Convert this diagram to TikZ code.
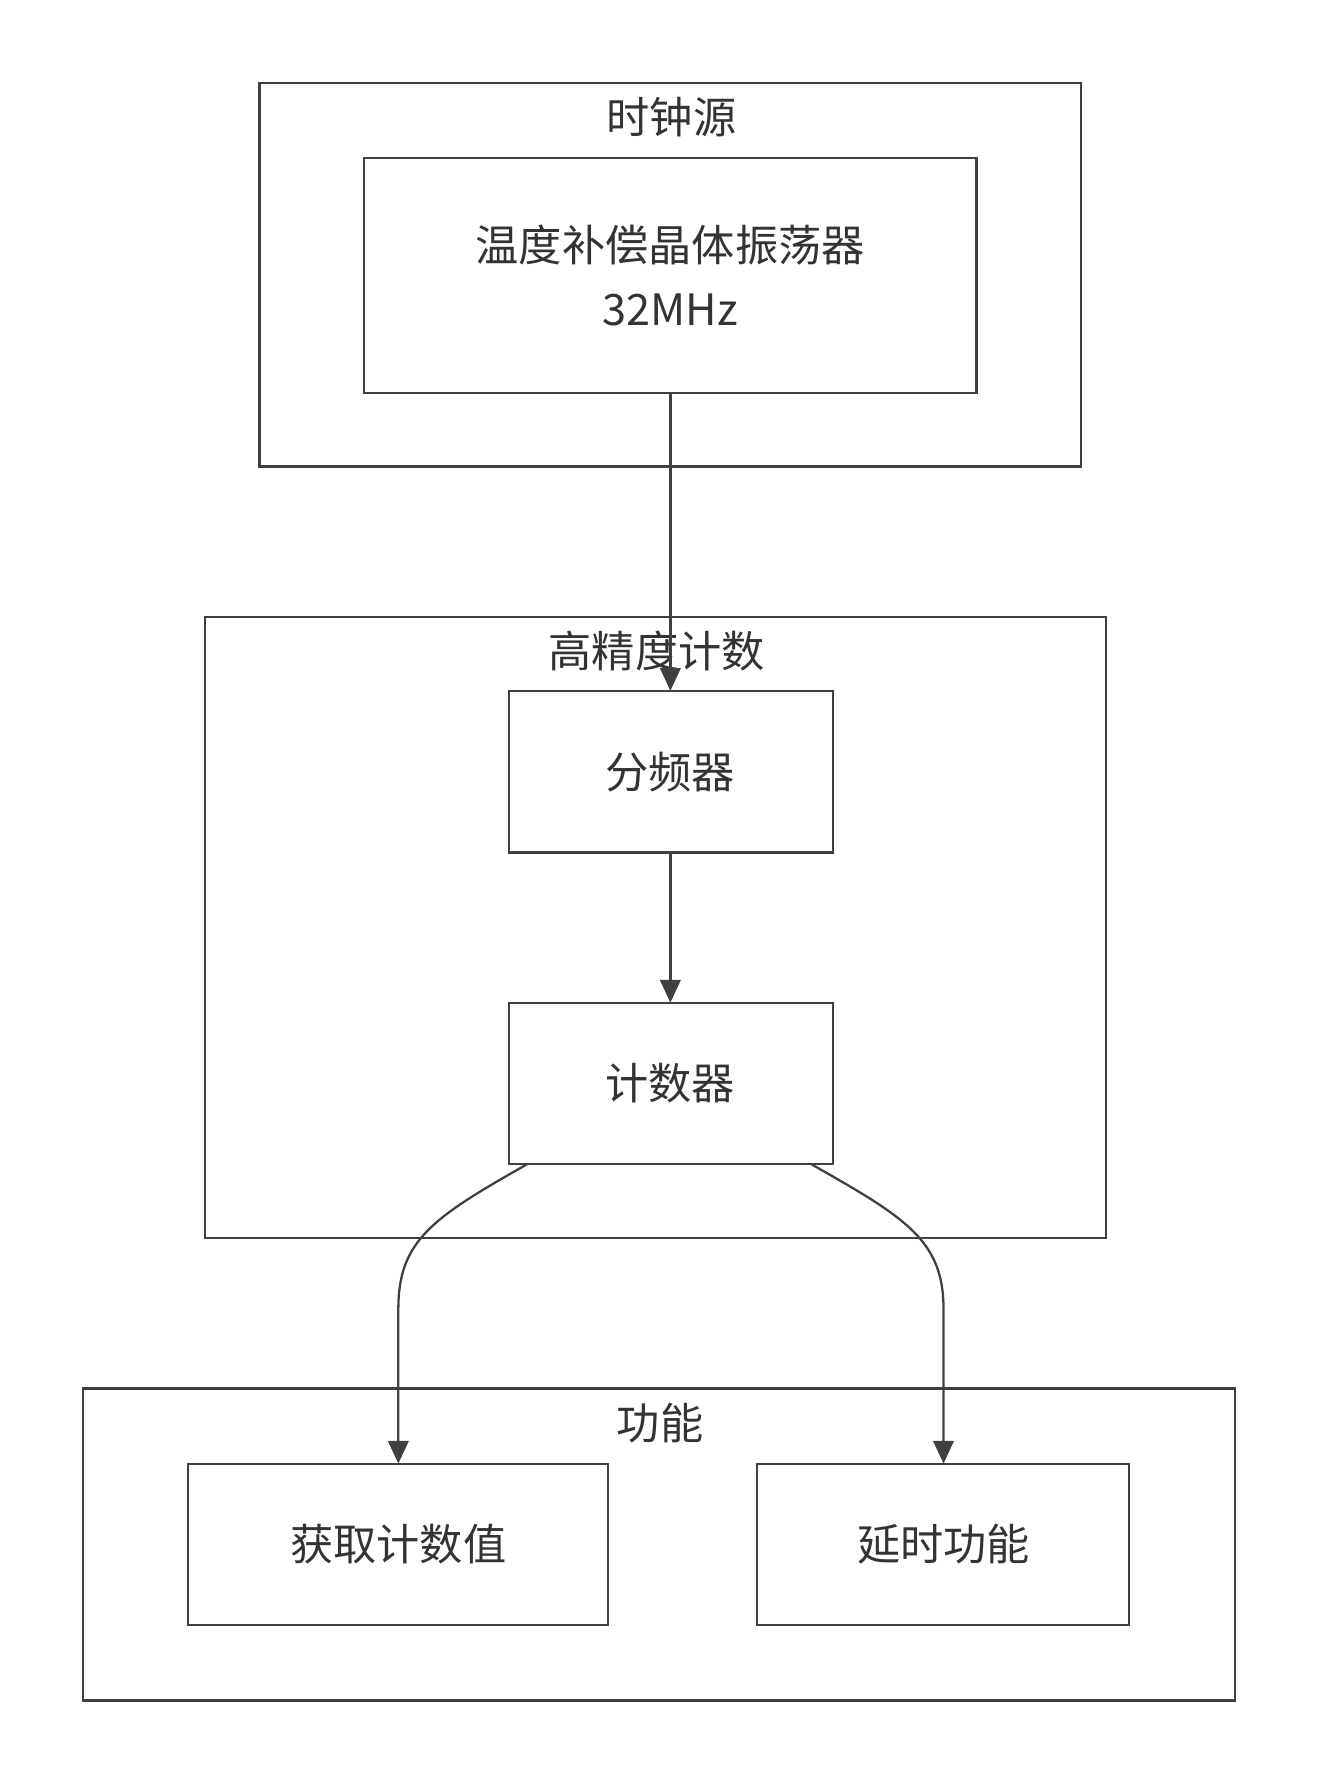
\documentclass[tikz,border=0pt]{standalone}
\usepackage{fontspec}
\setmainfont{Noto Sans CJK SC}
\usetikzlibrary{arrows.meta}
\begin{document}
\begin{tikzpicture}[x=1pt,y=-1pt,
  box/.style={draw=black!75,line width=2pt},
  lab/.style={font=\fontsize{38}{56}\selectfont,text=black!80,align=center},
  arr/.style={draw=black!75,line width=2pt,-{Triangle[length=20pt,width=18pt]}}]
\useasboundingbox (0,0) rectangle (1160,1571);
\draw[box] (228,73) rectangle (950,410);
\node[lab] (t1) at (590,103) {时钟源};
\draw[box] (320,139) rectangle (858,345);
\node[lab] (osc) at (589,242) {温度补偿晶体振荡器\\32MHz};
\coordinate (oscb) at (589,345);
\draw[box] (180,542) rectangle (972,1088);
\node[lab] (t2) at (577,572) {高精度计数};
\draw[box] (447,607) rectangle (732,749);
\node[lab] (div) at (589,678) {分频器};
\coordinate (divt) at (589,607);
\coordinate (divb) at (589,749);
\draw[box] (447,881) rectangle (732,1023);
\node[lab] (cnt) at (589,952) {计数器};
\coordinate (cntt) at (589,881);
\coordinate (cl) at (463,1023);
\coordinate (cr) at (713,1023);
\draw[box] (73,1220) rectangle (1085,1494);
\node[lab] (t3) at (580,1250) {功能};
\draw[box] (165,1286) rectangle (534,1428);
\node[lab] (get) at (350,1357) {获取计数值};
\coordinate (gett) at (350,1286);
\draw[box] (665,1286) rectangle (992,1428);
\node[lab] (dly) at (829,1357) {延时功能};
\coordinate (dlyt) at (829,1286);
\draw[arr] (oscb) -- (divt);
\draw[arr] (divb) -- (cntt);
\draw[arr] (cl) .. controls (380,1070) and (350,1090) .. (350,1150) -- (gett);
\draw[arr] (cr) .. controls (796,1070) and (829,1090) .. (829,1150) -- (dlyt);
\end{tikzpicture}
\end{document}
